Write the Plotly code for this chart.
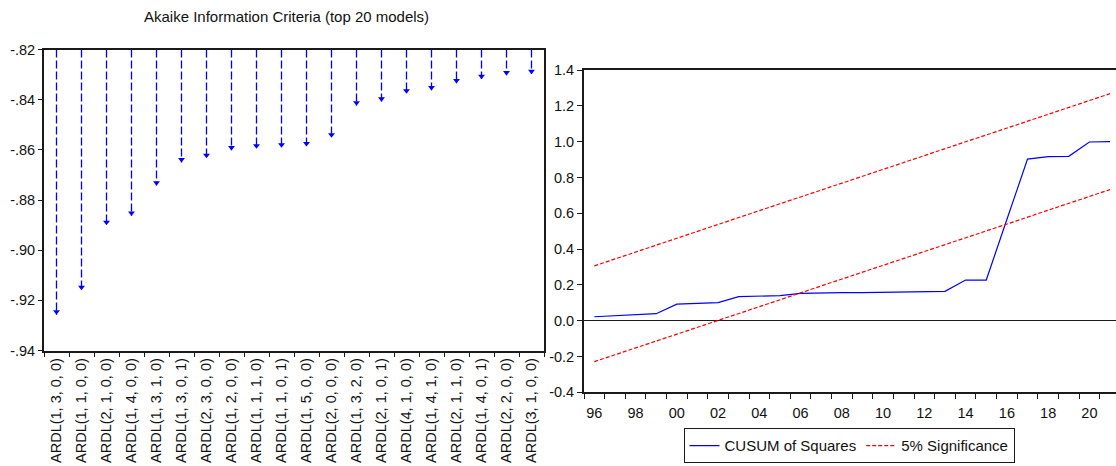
import plotly.graph_objects as go

# ---------------- data ----------------
models = ["ARDL(1, 3, 0, 0)", "ARDL(1, 1, 0, 0)", "ARDL(2, 1, 0, 0)", "ARDL(1, 4, 0, 0)",
          "ARDL(1, 3, 1, 0)", "ARDL(1, 3, 0, 1)", "ARDL(2, 3, 0, 0)", "ARDL(1, 2, 0, 0)",
          "ARDL(1, 1, 1, 0)", "ARDL(1, 1, 0, 1)", "ARDL(1, 5, 0, 0)", "ARDL(2, 0, 0, 0)",
          "ARDL(1, 3, 2, 0)", "ARDL(2, 1, 0, 1)", "ARDL(4, 1, 0, 0)", "ARDL(1, 4, 1, 0)",
          "ARDL(2, 1, 1, 0)", "ARDL(1, 4, 0, 1)", "ARDL(2, 2, 0, 0)", "ARDL(3, 1, 0, 0)"]
aic = [-0.9257, -0.9159, -0.8900, -0.8863, -0.8742, -0.8650, -0.8633, -0.8602,
       -0.8595, -0.8591, -0.8586, -0.8551, -0.8423, -0.8407, -0.8375, -0.8362,
       -0.8335, -0.8318, -0.8303, -0.8298]
aic_top = -0.82
aic_ticks = [-0.94, -0.92, -0.90, -0.88, -0.86, -0.84, -0.82]
aic_ticktext = ["-.94", "-.92", "-.90", "-.88", "-.86", "-.84", "-.82"]

years = list(range(1996, 2022))
cusum_sq = [0.022, 0.028, 0.034, 0.039, 0.092, 0.097, 0.101, 0.134, 0.136, 0.140,
            0.153, 0.157, 0.157, 0.157, 0.159, 0.160, 0.160, 0.164, 0.227, 0.227,
            0.565, 0.902, 0.916, 0.918, 0.998, 1.000]
upper5 = [0.306, 0.345, 0.383, 0.422, 0.460, 0.499, 0.537, 0.576, 0.614, 0.653,
          0.691, 0.730, 0.768, 0.806, 0.845, 0.883, 0.922, 0.960, 0.999, 1.037,
          1.076, 1.114, 1.153, 1.191, 1.230, 1.268]
lower5 = [-0.229, -0.191, -0.153, -0.114, -0.076, -0.037, 0.001, 0.040, 0.078, 0.117,
          0.155, 0.194, 0.232, 0.270, 0.309, 0.347, 0.386, 0.424, 0.463, 0.501,
          0.540, 0.578, 0.617, 0.655, 0.694, 0.732]
year_tickvals = list(range(1996, 2021, 2))
year_ticktext = ["96", "98", "00", "02", "04", "06", "08", "10", "12", "14", "16", "18", "20"]
cusum_ticks = [-0.4, -0.2, 0.0, 0.2, 0.4, 0.6, 0.8, 1.0, 1.2, 1.4]
cusum_ticktext = ["-0.4", "-0.2", "0.0", "0.2", "0.4", "0.6", "0.8", "1.0", "1.2", "1.4"]

# ---------------- figure ----------------
W, H = 1116, 466
FONT = "Liberation Sans, Arial, sans-serif"
AX = "#1a1a1a"

fig = go.Figure()

# dashed stems
sx, sy = [], []
for m, v in zip(models, aic):
    sx += [m, m, None]
    sy += [aic_top, v, None]
fig.add_trace(go.Scatter(x=sx, y=sy, mode="lines", xaxis="x", yaxis="y",
                         line=dict(color="#0000ff", width=1.3, dash="8px,3px"),
                         showlegend=False, hoverinfo="skip"))
# arrow heads (marker centre lifted so the tip sits on the value)
fig.add_trace(go.Scatter(x=models, y=[v + 0.0011 for v in aic], mode="markers",
                         xaxis="x", yaxis="y",
                         marker=dict(symbol="triangle-down", size=6, color="#0000ff"),
                         showlegend=False))

# CUSUM of squares
fig.add_trace(go.Scatter(x=years, y=cusum_sq, mode="lines", name="CUSUM of Squares",
                         xaxis="x2", yaxis="y2",
                         line=dict(color="#0000ff", width=1.2)))
fig.add_trace(go.Scatter(x=years, y=upper5, mode="lines", name="5% Significance",
                         xaxis="x2", yaxis="y2",
                         line=dict(color="#ff0000", width=1.2, dash="4px,2px")))
fig.add_trace(go.Scatter(x=years, y=lower5, mode="lines", name="5% Significance",
                         xaxis="x2", yaxis="y2", showlegend=False,
                         line=dict(color="#ff0000", width=1.2, dash="4px,2px")))

left_x0, left_x1 = 44 / W, 544 / W
left_y0, left_y1 = (H - 350.5) / H, (H - 49.5) / H
right_x0, right_x1 = 584 / W, 1.0
right_y0, right_y1 = (H - 392.3) / H, (H - 70) / H

tickfont = dict(family=FONT, size=14.5, color="#111")

fig.update_layout(
    template="none",
    width=W, height=H, autosize=False,
    margin=dict(l=0, r=0, t=0, b=0, pad=0),
    paper_bgcolor="white", plot_bgcolor="white",
    font=dict(family=FONT, size=15, color="#111"),
    xaxis=dict(domain=[left_x0, left_x1], anchor="y", type="category", automargin=False,
               categoryorder="array", categoryarray=models,
               range=[-0.5, len(models) - 0.5],
               tickson="boundaries", ticks="outside", ticklen=5, tickwidth=1.3,
               tickcolor=AX, tickangle=-90, tickfont=tickfont,
               showline=True, linecolor=AX, linewidth=1.8, mirror=True,
               showgrid=False, zeroline=False),
    yaxis=dict(domain=[left_y0, left_y1], anchor="x", automargin=False,
               range=[-0.94, -0.82], tickvals=aic_ticks, ticktext=aic_ticktext,
               ticks="outside", ticklen=4, tickwidth=1.3, tickcolor=AX, tickfont=tickfont,
               showline=True, linecolor=AX, linewidth=1.8, mirror=True,
               showgrid=False, zeroline=False),
    xaxis2=dict(domain=[right_x0, right_x1], anchor="y2", automargin=False,
                range=[1995.5, 2021.29], tickvals=year_tickvals, ticktext=year_ticktext,
                ticks="outside", ticklen=6, tickcolor="rgba(0,0,0,0)", tickfont=tickfont,
                minor=dict(tick0=1995.5, dtick=1, ticks="outside", ticklen=5,
                           tickwidth=1.3, tickcolor=AX, showgrid=False),
                showline=True, linecolor=AX, linewidth=1.8, mirror=True,
                showgrid=False, zeroline=False),
    yaxis2=dict(domain=[right_y0, right_y1], anchor="x2", automargin=False,
                range=[-0.4, 1.4], tickvals=cusum_ticks, ticktext=cusum_ticktext,
                ticks="outside", ticklen=5, tickwidth=1.3, tickcolor=AX, tickfont=tickfont,
                showline=True, linecolor=AX, linewidth=1.8, mirror=False,
                showgrid=False, zeroline=True, zerolinecolor=AX, zerolinewidth=1.2),
    legend=dict(orientation="h", x=849 / W, xanchor="center", y=2.7 / H, yanchor="bottom",
                bordercolor=AX, borderwidth=1, bgcolor="white",
                font=dict(family=FONT, size=15, color="#111"),
                itemwidth=30, tracegroupgap=0),
    annotations=[dict(text="Akaike Information Criteria (top 20 models)",
                      x=286 / W, y=(H - 16) / H, xref="paper", yref="paper",
                      xanchor="center", yanchor="middle", showarrow=False,
                      font=dict(family=FONT, size=15, color="#111"))],
)

fig.write_html(
    "out.html",
    config={"responsive": False, "displayModeBar": False},
    post_script=("document.body.style.margin='0px';"
                 "document.documentElement.style.overflow='hidden';"
                 "document.body.style.overflow='hidden';"),
)
